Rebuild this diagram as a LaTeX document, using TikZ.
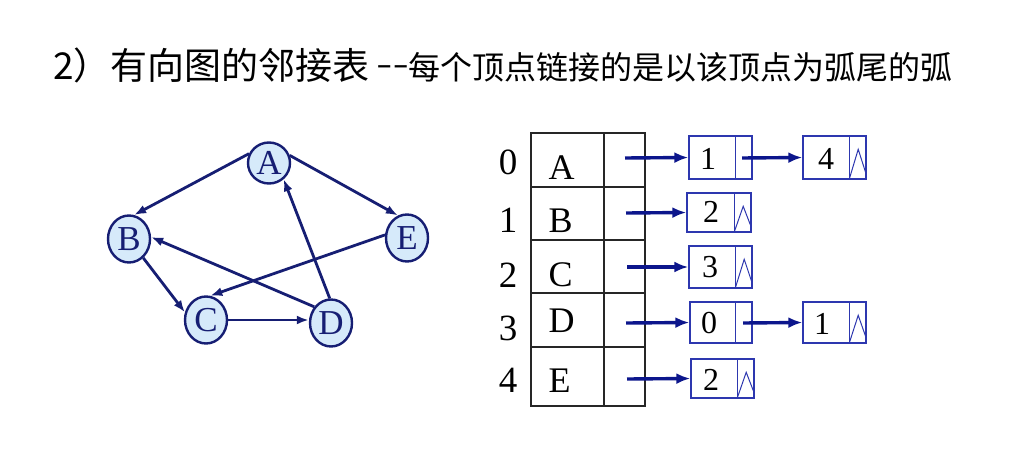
\documentclass[tikz,border=0pt]{standalone}
\usepackage{fontspec}
\setmainfont{Liberation Serif}
\newfontfamily\cjk{Noto Sans CJK SC}
\newfontfamily\hyph[FakeStretch=1.7]{Liberation Sans}
\usetikzlibrary{shapes.geometric,arrows.meta}
\definecolor{navy}{RGB}{22,30,115}
\definecolor{vfill}{RGB}{214,234,250}
\definecolor{pblue}{RGB}{12,22,140}
\definecolor{bblue}{RGB}{45,55,175}
\tikzset{
  vert/.style={ellipse, draw=navy, line width=2.4pt, fill=vfill, inner sep=0pt,
    minimum width=42pt, minimum height=47pt, text=navy,
    font=\fontsize{35}{38}\selectfont},
  gedge/.style={draw=navy, line width=2.8pt, -{Latex[length=12pt,width=9pt]}},
  cell/.style={draw=black!85, line width=1.3pt},
  idx/.style={anchor=base, font=\fontsize{37}{40}\selectfont},
  let/.style={anchor=base west, font=\fontsize{36}{39}\selectfont},
  lbox/.style={draw=bblue, line width=1.4pt, rectangle, inner sep=0pt, minimum width=63pt},
  num/.style={font=\fontsize{32}{35}\selectfont, inner sep=0pt},
  nullmark/.style={draw=bblue, line width=1pt, line join=miter},
  parrow/.style={draw=pblue, line width=3.4pt, -{Latex[length=14pt,width=11pt]}},
}
\begin{document}
\begin{tikzpicture}[x=1pt,y=-1pt]
\useasboundingbox (0,0) rectangle (1024,468);
% title
\node[anchor=base west, inner sep=0pt, font=\cjk\fontsize{37}{40}\selectfont] (t1) at (53,80) {2）有向图的邻接表};
\node[anchor=base west, inner sep=0pt, font=\cjk\fontsize{32}{35}\selectfont] (t2) at ([xshift=6pt]t1.base east) {\raisebox{5pt}{\hyph\fontsize{29}{32}\selectfont{-}{-}}每个顶点链接的是以该顶点为弧尾的弧};
% graph
\node[vert, minimum height=41pt] (A) at (269,163) {A};
\node[vert] (B) at (129,239) {B};
\node[vert] (E) at (407,238) {E};
\node[vert] (C) at (206,320) {C};
\node[vert] (D) at (331,323) {D};
\draw[gedge] (A.155) -- (B.78);
\draw[gedge] (A.20) -- (E.112);
\draw[gedge] (B.-53) -- (C.160);
\draw[gedge] (C.east) -- (D.west |- C.east);
\draw[gedge] (D.93) -- (A.-48);
\draw[gedge] (D.136) -- (B.5);
\draw[gedge] (E.172) -- (C.80);
% table
\draw[cell] (531,133) rectangle (645,406);
\draw[cell] (604,133) -- (604,406);
\foreach \yy in {187,240,293,347} \draw[cell] (531,\yy) -- (645,\yy);
\node[idx] (i0) at (508,174) {0};
\node[idx] (i1) at (508,232) {1};
\node[idx] (i2) at (508,287) {2};
\node[idx] (i3) at (508,340) {3};
\node[idx] (i4) at (508,392) {4};
\node[let] (lA) at (545,179) {A};
\node[let] (lB) at (545,232) {B};
\node[let] (lC) at (545,286) {C};
\node[let] (lD) at (545,332) {D};
\node[let] (lE) at (545,392) {E};
% list boxes
\node[lbox, minimum height=43pt] (b00) at (720.5,157.5) {};
\node[lbox, minimum height=43pt] (b01) at (834.5,157.5) {};
\node[lbox, minimum width=64pt, minimum height=39pt] (b10) at (719,212.5) {};
\node[lbox, minimum height=42pt] (b20) at (720.5,267) {};
\node[lbox, minimum width=62pt, minimum height=41pt] (b30) at (721,322.5) {};
\node[lbox, minimum height=41pt] (b31) at (834.5,322.5) {};
\node[lbox, minimum height=39pt] (b40) at (722.5,378.5) {};
\foreach \b in {b00,b01,b10,b20,b30,b31,b40}
  \draw[bblue, line width=1.4pt] ([xshift=-17pt]\b.north east) -- ([xshift=-17pt]\b.south east);
% null marks
\foreach \b in {b01,b10,b20,b31,b40}
  \draw[nullmark] ([xshift=-17pt,yshift=2pt]\b.south east) -- ([xshift=-8.5pt,yshift=-14pt]\b.north east) -- ([xshift=-1pt,yshift=7pt]\b.south east);
% numbers
\node[num] (n00) at (708,159) {1};
\node[num] (n01) at (826,159) {4};
\node[num] (n10) at (711,212) {2};
\node[num] (n20) at (710,267) {3};
\node[num] (n30) at (709,323) {0};
\node[num] (n31) at (822,324) {1};
\node[num] (n40) at (711,380) {2};
% pointers
\coordinate (s0) at (625,158);
\coordinate (s1) at (626,213);
\coordinate (s2) at (627,267);
\coordinate (s3) at (626,323);
\coordinate (s4) at (627,379);
\coordinate (c0) at (742,158);
\coordinate (c3) at (743,323);
\draw[parrow] (s0) -- (b00.west);
\draw[parrow] (s1) -- (b10.west);
\draw[parrow] (s2) -- (b20.west);
\draw[parrow] (s3) -- (b30.west);
\draw[parrow] (s4) -- (b40.west);
\draw[parrow] (c0) -- (b01.west);
\draw[parrow] (c3) -- (b31.west);
\end{tikzpicture}
\end{document}
